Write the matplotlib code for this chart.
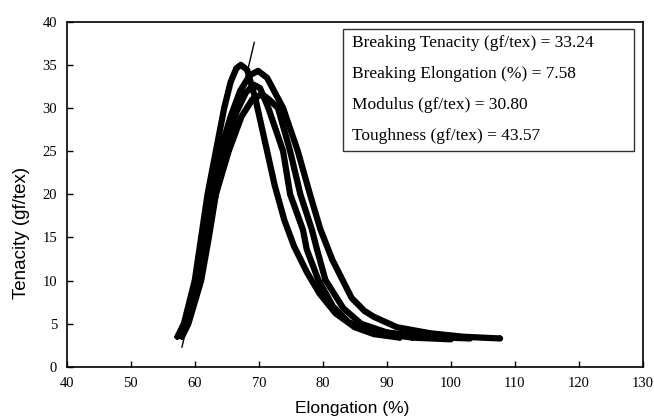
import matplotlib
matplotlib.use("Agg")
import matplotlib.pyplot as plt
from matplotlib.patches import Rectangle

# stress-strain curves (elongation %, tenacity gf/tex)
elong_a = [57.3, 58.3, 60.0, 61.0, 62.0, 63.3, 64.6, 65.6, 66.5, 67.2, 68.2,
           69.5, 71.0, 72.5, 74.0, 75.5, 77.5, 79.5, 82.0, 85.0, 88.0, 92.0]
ten_a = [3.5, 5.0, 10.0, 15.0, 20.0, 25.0, 30.0, 33.0, 34.6, 35.0, 34.4,
         31.0, 26.0, 21.0, 17.0, 14.0, 11.0, 8.5, 6.2, 4.6, 3.8, 3.4]

elong_b = [57.5, 58.5, 60.3, 61.4, 62.5, 64.0, 65.6, 67.1, 68.6, 69.9, 71.3,
           73.8, 76.1, 78.0, 79.6, 81.5, 84.5, 86.5, 88.0, 91.6, 96.8, 102.0, 107.7]
ten_b = [3.7, 5.0, 10.0, 15.0, 20.0, 25.0, 29.0, 32.0, 33.8, 34.3, 33.5,
         30.0, 25.0, 20.0, 16.0, 12.4, 8.0, 6.5, 5.8, 4.6, 3.9, 3.5, 3.3]

elong_c = [57.8, 58.7, 60.6, 61.8, 62.9, 64.6, 66.5, 68.0, 69.2, 70.2,
           71.5, 73.8, 74.9, 76.9, 77.5, 79.3, 81.6, 84.0, 88.0, 94.0, 100.0]
ten_c = [3.6, 5.0, 10.0, 15.0, 20.0, 25.0, 29.5, 31.8, 32.7, 32.3,
         30.0, 25.0, 20.0, 15.9, 13.6, 10.1, 7.0, 5.2, 4.0, 3.4, 3.2]

elong_d = [58.0, 59.0, 61.0, 62.2, 63.3, 65.3, 67.3, 69.0, 70.5, 71.6,
           73.0, 74.9, 76.5, 78.3, 79.1, 80.4, 83.2, 86.0, 90.0, 96.0, 103.0]
ten_d = [3.5, 5.0, 10.0, 15.0, 20.0, 25.0, 29.0, 31.0, 31.6, 31.0,
         30.0, 25.0, 20.0, 15.9, 13.6, 10.1, 6.8, 5.0, 4.0, 3.5, 3.3]

# modulus line
mod_x = [58.0, 69.3]
mod_y = [2.3, 37.6]

stats = ["Breaking Tenacity (gf/tex) = 33.24",
         "Breaking Elongation (%) = 7.58",
         "Modulus (gf/tex) = 30.80",
         "Toughness (gf/tex) = 43.57"]

fig = plt.figure(figsize=(6.54, 4.17), dpi=100)
ax = fig.add_axes([0.102, 0.12, 0.881, 0.828])

for xs, ys in [(elong_a, ten_a), (elong_b, ten_b), (elong_c, ten_c), (elong_d, ten_d)]:
    ax.plot(xs, ys, color="black", lw=4.5, solid_joinstyle="round",
            solid_capstyle="round", marker="+", ms=5, mew=1.2)
ax.plot(mod_x, mod_y, color="black", lw=1.0)

ax.set_xlim(40, 130)
ax.set_ylim(0, 40)
ax.set_xticks(range(40, 131, 10))
ax.set_yticks(range(0, 41, 5))
ax.tick_params(direction="in", length=4, width=1, labelsize=10.5)
ax.tick_params(axis="x", pad=7)
ax.tick_params(axis="y", pad=7)
for lab in ax.get_xticklabels() + ax.get_yticklabels():
    lab.set_family("Liberation Serif")
for sp in ax.spines.values():
    sp.set_linewidth(1.2)

ax.set_xlabel("Elongation (%)", family="Liberation Sans", fontsize=12.5)
ax.set_ylabel("Tenacity (gf/tex)", family="Liberation Sans", fontsize=13.5)
ax.xaxis.set_label_coords(0.495, -0.119)
ax.xaxis.label.set_va("center")
ax.yaxis.set_label_coords(-0.078, 0.388)
ax.yaxis.label.set_va("center")

ax.add_patch(Rectangle((0.479, 0.625), 0.505, 0.353, transform=ax.transAxes,
                       facecolor="white", edgecolor="#333333", lw=1.0, zorder=5))
for i, s in enumerate(stats):
    ax.text(0.496, 0.938 - i * 0.09, s, transform=ax.transAxes, family="Liberation Serif",
            fontsize=12.5, va="center", ha="left", zorder=6)

fig.savefig("out.png", dpi=100)
